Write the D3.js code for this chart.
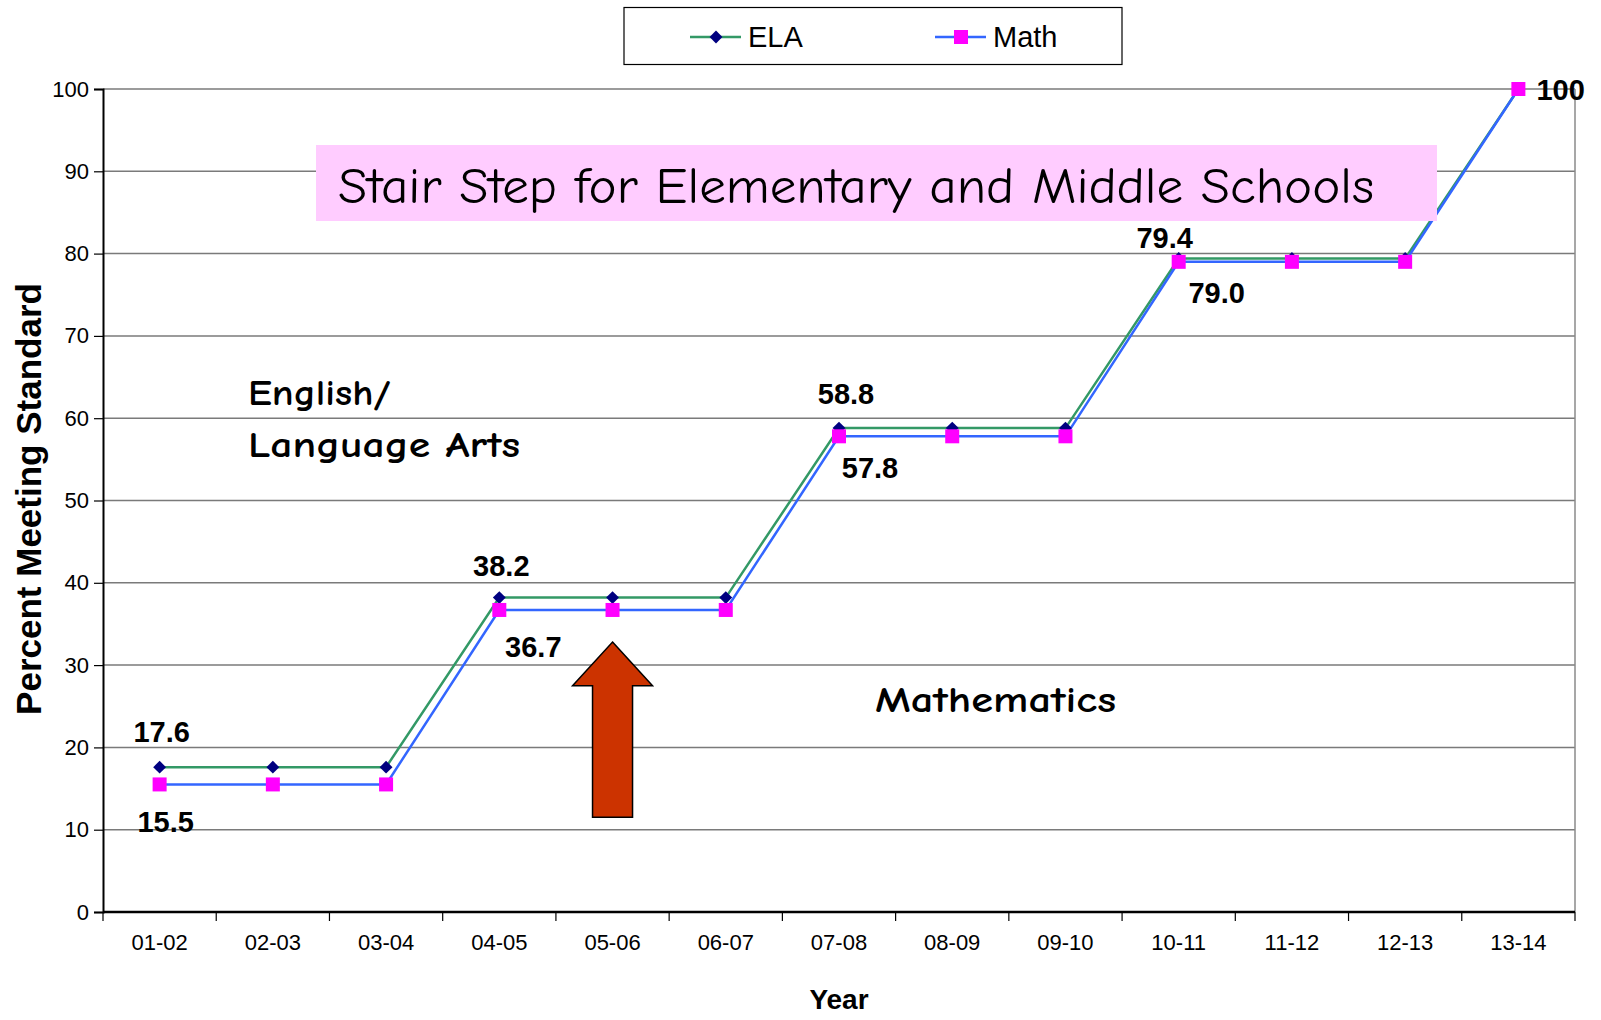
<!DOCTYPE html>
<html>
<head>
<meta charset="utf-8">
<script src="https://cdn.jsdelivr.net/npm/d3@7"></script>
<style>
  body { margin: 0; background: #fff; }
  svg { display: block; }
</style>
</head>
<body>
<svg id="chart" width="1601" height="1020"></svg>
<script>
// chart data
const years = ["01-02", "02-03", "03-04", "04-05", "05-06", "06-07", "07-08",
               "08-09", "09-10", "10-11", "11-12", "12-13", "13-14"];
const ela  = [17.6, 17.6, 17.6, 38.2, 38.2, 38.2, 58.8, 58.8, 58.8, 79.4, 79.4, 79.4, 100];
const math = [15.5, 15.5, 15.5, 36.7, 36.7, 36.7, 57.8, 57.8, 57.8, 79.0, 79.0, 79.0, 100];
const yTicks = [0, 10, 20, 30, 40, 50, 60, 70, 80, 90, 100];

// which points get a value label, and where it sits relative to the point
const elaLabels  = [{i: 0, dx: 2, dy: -35}, {i: 3, dx: 2, dy: -32}, {i: 6, dx: 7, dy: -34}, {i: 9, dx: -14, dy: -21}];
const mathLabels = [{i: 0, dx: 6, dy: 38}, {i: 3, dx: 34, dy: 37}, {i: 6, dx: 31, dy: 32}, {i: 9, dx: 38, dy: 31}];

const ARIAL = "'Liberation Sans', Arial, sans-serif";
const COMIC = "'Comic Sans MS', 'Comic Neue', 'DejaVu Sans', sans-serif";

let svg = d3.select("#chart"),
    margin = {top: 89, right: 26, bottom: 108, left: 103},
    width  = +svg.attr("width") - margin.left - margin.right,
    height = +svg.attr("height") - margin.top - margin.bottom,
    g = svg.append("g").attr("transform", `translate(${margin.left},${margin.top})`);

let x = d3.scaleBand().domain(years).range([0, width]).padding(0);
let y = d3.scaleLinear().domain([0, 100]).range([height, 0]);
let cx = i => x(years[i]) + x.bandwidth() / 2;

// grid lines
g.append("g")
 .selectAll("line")
 .data(yTicks.filter(t => t > 0))
 .enter().append("line")
 .attr("x1", 0).attr("x2", width)
 .attr("y1", d => y(d)).attr("y2", d => y(d))
 .attr("stroke", "#7a7a7a").attr("stroke-width", 1.5);

// right border
g.append("line")
 .attr("x1", width).attr("x2", width)
 .attr("y1", 0).attr("y2", height)
 .attr("stroke", "#8a8a8a").attr("stroke-width", 1.5);

// y axis
let yAxis = g.append("g")
 .call(d3.axisLeft(y).tickValues(yTicks).tickSize(9).tickPadding(5));
yAxis.select(".domain").attr("stroke", "#000").attr("stroke-width", 2);
yAxis.selectAll(".tick line").attr("stroke", "#000").attr("stroke-width", 1.2);
yAxis.selectAll("text").attr("font-family", ARIAL).attr("font-size", 22).attr("fill", "#000");

// x axis: ticks at band edges, labels at band centres
let xAxis = g.append("g").attr("transform", `translate(0,${height})`);
xAxis.append("line").attr("x1", 0).attr("x2", width)
     .attr("stroke", "#000").attr("stroke-width", 2.5);
xAxis.selectAll(".xt")
     .data(years.concat(["end"]))
     .enter().append("line")
     .attr("class", "xt")
     .attr("x1", (d, i) => i * x.bandwidth()).attr("x2", (d, i) => i * x.bandwidth())
     .attr("y1", 0).attr("y2", 9)
     .attr("stroke", "#000").attr("stroke-width", 1.2);
xAxis.selectAll(".xl")
     .data(years)
     .enter().append("text")
     .attr("class", "xl")
     .attr("x", d => x(d) + x.bandwidth() / 2)
     .attr("y", 38)
     .attr("text-anchor", "middle")
     .attr("font-family", ARIAL).attr("font-size", 22)
     .text(d => d);

// axis titles
svg.append("text")
   .attr("transform", "translate(41,499) rotate(-90)")
   .attr("text-anchor", "middle")
   .attr("font-family", ARIAL).attr("font-size", 35).attr("font-weight", "bold")
   .text("Percent Meeting Standard");
svg.append("text")
   .attr("x", 839).attr("y", 1009)
   .attr("text-anchor", "middle")
   .attr("font-family", ARIAL).attr("font-size", 28).attr("font-weight", "bold")
   .text("Year");

// title box
svg.append("rect")
   .attr("x", 316).attr("y", 145).attr("width", 1121).attr("height", 76)
   .attr("fill", "#ffccff");
svg.append("text")
   .attr("x", 338).attr("y", 203)
   .attr("font-family", COMIC).attr("font-size", 50)
   .attr("textLength", 1036).attr("lengthAdjust", "spacingAndGlyphs")
   .text("Stair Step for Elementary and Middle Schools");

// lines
let line = vals => d3.line().x((d, i) => cx(i)).y(d => y(d))(vals);
g.append("path").attr("d", line(ela)).attr("fill", "none")
 .attr("stroke", "#339966").attr("stroke-width", 2.5);
g.append("path").attr("d", line(math)).attr("fill", "none")
 .attr("stroke", "#3366ff").attr("stroke-width", 2.5);

// markers
let diamond = d3.symbol().type(d3.symbolDiamond2).size(105);
g.selectAll(".ela")
 .data(ela).enter().append("path")
 .attr("class", "ela")
 .attr("d", diamond)
 .attr("transform", (d, i) => `translate(${cx(i)},${y(d)})`)
 .attr("fill", "#000080");
g.selectAll(".math")
 .data(math).enter().append("rect")
 .attr("class", "math")
 .attr("x", (d, i) => cx(i) - 7).attr("y", d => y(d) - 7)
 .attr("width", 14).attr("height", 14)
 .attr("fill", "#ff00ff");

// value labels
let labelStyle = sel => sel.attr("font-family", ARIAL).attr("font-size", 29)
                           .attr("font-weight", "bold").attr("dominant-baseline", "central");
g.selectAll(".elaLab")
 .data(elaLabels).enter().append("text")
 .attr("x", d => cx(d.i) + d.dx).attr("y", d => y(ela[d.i]) + d.dy)
 .attr("text-anchor", "middle")
 .call(labelStyle)
 .text(d => ela[d.i].toFixed(1));
g.selectAll(".mathLab")
 .data(mathLabels).enter().append("text")
 .attr("x", d => cx(d.i) + d.dx).attr("y", d => y(math[d.i]) + d.dy)
 .attr("text-anchor", "middle")
 .call(labelStyle)
 .text(d => math[d.i].toFixed(1));
g.append("text")
 .attr("x", cx(12) + 18).attr("y", y(math[12]) + 1)
 .call(labelStyle)
 .text(math[12]);

// subject annotations
let note = (txt, px, py, len) => svg.append("text")
   .attr("x", px).attr("y", py)
   .attr("font-family", COMIC).attr("font-size", 37).attr("font-weight", "bold")
   .attr("textLength", len).attr("lengthAdjust", "spacingAndGlyphs")
   .text(txt);
note("English/", 248, 405, 143);
note("Language Arts", 248, 457, 272);
note("Mathematics", 875, 712, 241);

// arrow under 05-06
let ax = cx(4);
let arrow = [[ax, y(32.8)], [ax + 40, y(27.5)], [ax + 20, y(27.5)], [ax + 20, y(11.5)],
             [ax - 20, y(11.5)], [ax - 20, y(27.5)], [ax - 40, y(27.5)]];
g.append("path")
 .attr("d", d3.line()(arrow) + "Z")
 .attr("fill", "#cc3300").attr("stroke", "#000").attr("stroke-width", 1.5);

// legend
let lg = svg.append("g");
lg.append("rect").attr("x", 624).attr("y", 7.5).attr("width", 498).attr("height", 57)
  .attr("fill", "#fff").attr("stroke", "#000").attr("stroke-width", 1.2);
let legendItems = [
  {name: "ELA", color: "#339966", x: 690},
  {name: "Math", color: "#3366ff", x: 935}
];
legendItems.forEach((it, k) => {
  lg.append("line").attr("x1", it.x).attr("x2", it.x + 51).attr("y1", 37).attr("y2", 37)
    .attr("stroke", it.color).attr("stroke-width", 2.5);
  if (k == 0) {
    lg.append("path").attr("d", diamond)
      .attr("transform", `translate(${it.x + 26},37)`).attr("fill", "#000080");
  } else {
    lg.append("rect").attr("x", it.x + 19).attr("y", 30).attr("width", 14).attr("height", 14)
      .attr("fill", "#ff00ff");
  }
  lg.append("text").attr("x", it.x + 58).attr("y", 47)
    .attr("font-family", ARIAL).attr("font-size", 29)
    .text(it.name);
});
</script>
</body>
</html>
